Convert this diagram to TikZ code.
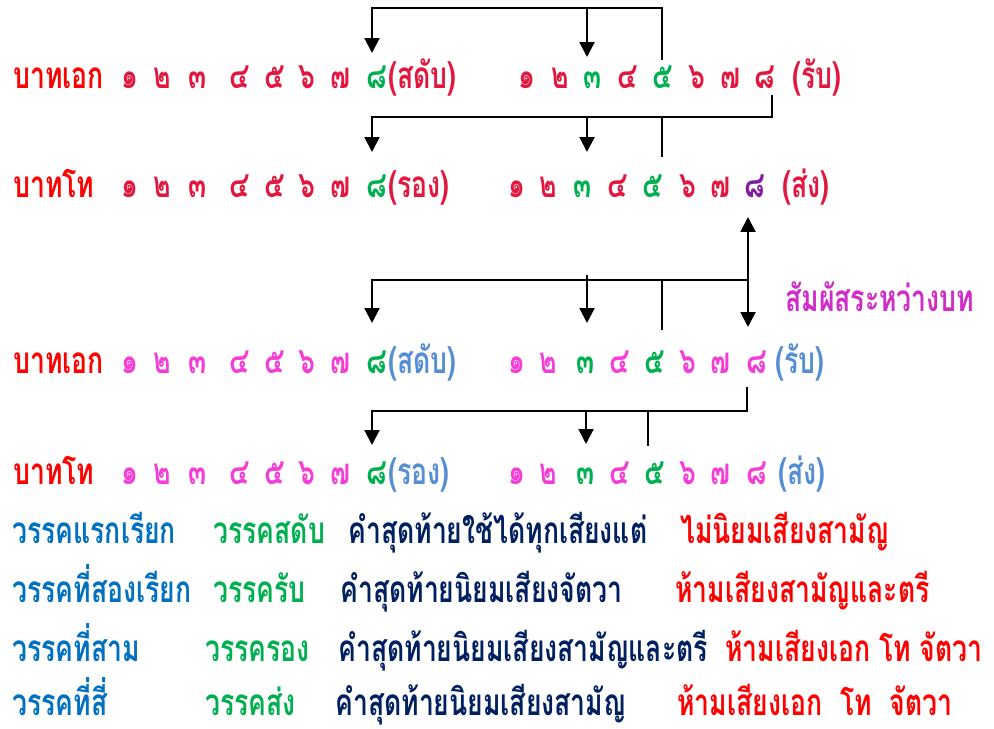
\documentclass[tikz,border=0pt]{standalone}
\usepackage{fontspec}
\newfontfamily\thaifont[Script=Thai, FakeStretch=0.72]{Loma}
\usetikzlibrary{arrows.meta}
\definecolor{bathred}{RGB}{255,0,0}
\definecolor{numred}{RGB}{227,23,62}
\definecolor{numgreen}{RGB}{0,176,80}
\definecolor{numpurple}{RGB}{128,30,158}
\definecolor{numpink}{RGB}{245,60,215}
\definecolor{wakblue}{RGB}{0,112,192}
\definecolor{palblue}{RGB}{85,142,213}
\definecolor{tipnavy}{RGB}{0,32,96}
\definecolor{samphat}{RGB}{208,44,200}
\tikzset{
	thaitxt/.style={inner sep=0pt, anchor=base west, font=\thaifont\bfseries\fontsize{21}{25}\selectfont},
	thainum/.style={inner sep=0pt, anchor=base, font=\thaifont\bfseries\fontsize{21}{25}\selectfont},
	link/.style={line width=1.2pt},
	linkarrow/.style={line width=1.2pt, -{Triangle[width=8.5pt,length=8.5pt]}},
}

\begin{document}
\begin{tikzpicture}[x=0.02cm, y=-0.02cm]
		%%%%% START %%%%%
		\useasboundingbox (0,0) rectangle (994,729);
		
		% bot ek 1
		\node[thaitxt, text=bathred] (ek1) at (13,89) {บาทเอก};
		\foreach \d/\x/\c [count=\i] in {๑/130/numred, ๒/162/numred, ๓/198/numred, ๔/240/numred, ๕/275/numred, ๖/307/numred, ๗/340/numred, ๘/377/numgreen}
			\node[thainum, text=\c] (ekA\i) at (\x,89) {\d};
		\node[thaitxt, text=numred] (sadap1) at (388,89) {(สดับ)};
		\foreach \d/\x/\c [count=\i] in {๑/527/numred, ๒/560/numred, ๓/593/numgreen, ๔/628/numred, ๕/663/numgreen, ๖/697/numred, ๗/730/numred, ๘/765/numred}
			\node[thainum, text=\c] (ekB\i) at (\x,89) {\d};
		\node[thaitxt, text=numred] (rap1) at (792,89) {(รับ)};
		
		% bot tho 1
		\node[thaitxt, text=bathred] (tho1) at (13,198) {บาทโท};
		\foreach \d/\x/\c [count=\i] in {๑/130/numred, ๒/162/numred, ๓/198/numred, ๔/240/numred, ๕/275/numred, ๖/307/numred, ๗/340/numred, ๘/377/numgreen}
			\node[thainum, text=\c] (thoA\i) at (\x,198) {\d};
		\node[thaitxt, text=numred] (rong1) at (388,198) {(รอง)};
		\foreach \d/\x/\c [count=\i] in {๑/517/numred, ๒/548/numred, ๓/583/numgreen, ๔/618/numred, ๕/653/numgreen, ๖/688/numred, ๗/720/numred, ๘/755/numpurple}
			\node[thainum, text=\c] (thoB\i) at (\x,198) {\d};
		\node[thaitxt, text=numred] (song1) at (782,198) {(ส่ง)};
		
		% bot ek 2
		\node[thaitxt, text=bathred] (ek2) at (13,374) {บาทเอก};
		\foreach \d/\x/\c [count=\i] in {๑/130/numpink, ๒/162/numpink, ๓/198/numpink, ๔/240/numpink, ๕/275/numpink, ๖/307/numpink, ๗/340/numpink, ๘/377/numgreen}
			\node[thainum, text=\c] (ekC\i) at (\x,374) {\d};
		\node[thaitxt, text=palblue] (sadap2) at (388,374) {(สดับ)};
		\foreach \d/\x/\c [count=\i] in {๑/517/numpink, ๒/548/numpink, ๓/586/numgreen, ๔/620/numpink, ๕/655/numgreen, ๖/688/numpink, ๗/720/numpink, ๘/757/numpink}
			\node[thainum, text=\c] (ekD\i) at (\x,374) {\d};
		\node[thaitxt, text=palblue] (rap2) at (775,374) {(รับ)};
		
		% bot tho 2
		\node[thaitxt, text=bathred] (tho2) at (13,484) {บาทโท};
		\foreach \d/\x/\c [count=\i] in {๑/130/numpink, ๒/162/numpink, ๓/198/numpink, ๔/240/numpink, ๕/275/numpink, ๖/307/numpink, ๗/340/numpink, ๘/377/numgreen}
			\node[thainum, text=\c] (thoC\i) at (\x,484) {\d};
		\node[thaitxt, text=palblue] (rong2) at (388,484) {(รอง)};
		\foreach \d/\x/\c [count=\i] in {๑/517/numpink, ๒/548/numpink, ๓/586/numgreen, ๔/620/numpink, ๕/655/numgreen, ๖/688/numpink, ๗/720/numpink, ๘/757/numpink}
			\node[thainum, text=\c] (thoD\i) at (\x,484) {\d};
		\node[thaitxt, text=palblue] (song2) at (778,484) {(ส่ง)};
		
		\node[thaitxt, text=samphat] (samphat) at (785,312) {สัมผัสระหว่างบท};
		
		% brackets
		\coordinate (k1) at (372,8);
		\coordinate (k2) at (662,8);
		\draw[linkarrow] (662,60) -- (k2) -- (k1) -- (372,53);
		\draw[linkarrow] (587,8) -- (587,57);
		
		\coordinate (k3) at (772,117);
		\coordinate (k4) at (372,117);
		\draw[linkarrow] (772,95) -- (k3) -- (k4) -- (372,152);
		\draw[linkarrow] (587,117) -- (587,152);
		\draw[link] (662,117) -- (662,157);
		
		\coordinate (k5) at (748,280);
		\coordinate (k6) at (372,280);
		\draw[linkarrow] (k5) -- (748,217);
		\draw[linkarrow] (k5) -- (748,327);
		\draw[linkarrow] (k5) -- (k6) -- (372,323);
		\draw[linkarrow] (587,275) -- (587,323);
		\draw[link] (662,280) -- (662,330);
		
		\coordinate (k7) at (747,411);
		\coordinate (k8) at (372,411);
		\draw[linkarrow] (747,387) -- (k7) -- (k8) -- (372,445);
		\draw[linkarrow] (586,411) -- (586,444);
		\draw[link] (648,411) -- (648,446);
		
		% wak rows
		\node[thaitxt, text=wakblue] (wak1) at (12,543) {วรรคแรกเรียก};
		\node[thaitxt, text=numgreen] (sadap3) at (213,543) {วรรคสดับ};
		\node[thaitxt, text=tipnavy] (rule1) at (348,543) {คำสุดท้ายใช้ได้ทุกเสียงแต่};
		\node[thaitxt, text=bathred] (ban1) at (680,543) {ไม่นิยมเสียงสามัญ};
		
		\node[thaitxt, text=wakblue] (wak2) at (12,602) {วรรคที่สองเรียก};
		\node[thaitxt, text=numgreen] (rap3) at (213,602) {วรรครับ};
		\node[thaitxt, text=tipnavy] (rule2) at (340,602) {คำสุดท้ายนิยมเสียงจัตวา};
		\node[thaitxt, text=bathred] (ban2) at (675,602) {ห้ามเสียงสามัญและตรี};
		
		\node[thaitxt, text=wakblue] (wak3) at (12,661) {วรรคที่สาม};
		\node[thaitxt, text=numgreen] (rong3) at (205,661) {วรรครอง};
		\node[thaitxt, text=tipnavy] (rule3) at (338,661) {คำสุดท้ายนิยมเสียงสามัญและตรี};
		\node[thaitxt, text=bathred] (ban3) at (725,661) {ห้ามเสียงเอก โท จัตวา};
		
		\node[thaitxt, text=wakblue] (wak4) at (12,715) {วรรคที่สี่};
		\node[thaitxt, text=numgreen] (song3) at (205,715) {วรรคส่ง};
		\node[thaitxt, text=tipnavy] (rule4) at (335,715) {คำสุดท้ายนิยมเสียงสามัญ};
		\node[thaitxt, text=bathred] (ban4) at (677,715) {ห้ามเสียงเอก~~โท~~จัตวา};
		
		%%%%% END %%%%%
\end{tikzpicture}
\end{document}
